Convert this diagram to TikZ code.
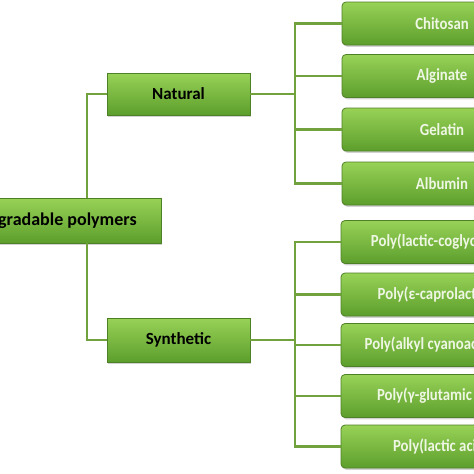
\documentclass[tikz,border=0pt]{standalone}
\usepackage{fontspec}
\setmainfont{Carlito}
\usetikzlibrary{shadows}
\definecolor{gtop}{HTML}{98D257}
\definecolor{gbot}{HTML}{5C9E2C}
\definecolor{gedge}{HTML}{4E8026}
\definecolor{gline}{HTML}{72A23E}
\definecolor{wtext}{HTML}{EEF6E4}
\newcommand{\leaftxt}[1]{\scalebox{0.87}[1]{#1}}
\tikzset{
  boxbase/.style={rectangle, draw=gedge, line width=0.8pt, top color=gtop, bottom color=gbot,
    inner sep=0pt,
    drop shadow={opacity=0.35, shadow xshift=1.2pt, shadow yshift=-1.8pt}},
  mainbox/.style={boxbase, text=black, font=\fontsize{17}{20}\selectfont\bfseries},
  leafbox/.style={boxbase, text=wtext, minimum width=200pt, minimum height=43pt,
    rounded corners=4pt, font=\fontsize{17}{20}\selectfont\bfseries},
  conn/.style={draw=gline, line width=2.4pt}
}
\begin{document}
\begin{tikzpicture}[x=1pt,y=-1pt]
\useasboundingbox (0,0) rectangle (474,474);
\clip (0,0) rectangle (474,474);
\fill[white] (0,0) rectangle (474,474);
% nodes
\node[mainbox, minimum width=230pt, minimum height=45pt, font=\fontsize{18}{21}\selectfont\bfseries] (root) at (46,220.5) {Biodegradable polymers};
\node[mainbox, minimum width=143pt, minimum height=42pt] (nat) at (178.5,94) {Natural};
\node[mainbox, minimum width=143pt, minimum height=44pt] (syn) at (178.5,340) {Synthetic};
\node[leafbox] (chi) at (442,23.5) {\leaftxt{Chitosan}};
\node[leafbox] (alg) at (442,76) {\leaftxt{Alginate}};
\node[leafbox] (gel) at (442,129.5) {\leaftxt{Gelatin}};
\node[leafbox] (alb) at (442,183.5) {\leaftxt{Albumin}};
\node[leafbox] (plg) at (441,242) {\leaftxt{Poly(lactic-coglycolide)}};
\node[leafbox] (pcl) at (441,294.5) {\leaftxt{Poly(ε-caprolactone)}};
\node[leafbox] (pac) at (441,345) {\leaftxt{Poly(alkyl cyanoacrylate)}};
\node[leafbox] (pga) at (441,396) {\leaftxt{Poly(γ-glutamic acid)}};
\node[leafbox] (pla) at (441,446.5) {\leaftxt{Poly(lactic acid)}};
% trunk coordinates
\coordinate (tx) at (87,0);
\coordinate (nx) at (295,0);
\coordinate (sx) at (295,0);
% connectors
\draw[conn] (root.north -| tx) |- (nat.west);
\draw[conn] (root.south -| tx) |- (syn.west);
\draw[conn] (nat.east) -- (nat.east -| nx);
\foreach \k in {chi,alg,gel,alb} \draw[conn] (nat.east -| nx) |- (\k.west);
\draw[conn] (syn.east) -- (syn.east -| sx);
\foreach \k in {plg,pcl,pac,pga,pla} \draw[conn] (syn.east -| sx) |- (\k.west);
\end{tikzpicture}
\end{document}
